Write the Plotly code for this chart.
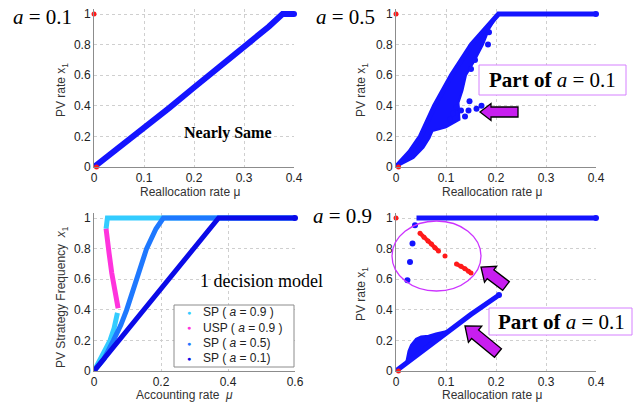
import math
import plotly.graph_objects as go

W, H = 636, 403
def px(x): return x / W
def py(y): return 1 - y / H

# ---------------- data ----------------
# panel 1 : a = 0.1
a01_mu = [0, 0.05, 0.1, 0.15, 0.2, 0.25, 0.3, 0.35, 0.377, 0.4]
a01_x1 = [0, 0.125, 0.25, 0.385, 0.52, 0.65, 0.785, 0.918, 1.0, 1.0]

# red points shown in panels 1, 2, 4
red_mu = [0, 0.005]
red_x1 = [1, 0]

# panel 2 : a = 0.5
a05_up_mu = [0, 0.028, 0.049, 0.077, 0.111, 0.151, 0.205, 0.4]
a05_up_x1 = [0, 0.1, 0.2, 0.4, 0.6, 0.8, 1.0, 1.0]
a05_cloud_mu = [0, 0.028, 0.049, 0.077, 0.111, 0.151, 0.205,
                0.186, 0.174, 0.158, 0.14, 0.133, 0.125, 0.127, 0.1, 0.073, 0.067, 0.055, 0.035, 0]
a05_cloud_x1 = [0, 0.1, 0.2, 0.4, 0.6, 0.8, 1.0,
                0.9, 0.8, 0.7, 0.6, 0.5, 0.42, 0.31, 0.26, 0.235, 0.19, 0.126, 0.06, 0]
a05_out_mu = [0.147, 0.171, 0.161, 0.145, 0.138, 0.13, 0.121, 0.108, 0.114, 0.184, 0.158, 0.186, 0.15]
a05_out_x1 = [0.43, 0.40, 0.38, 0.37, 0.33, 0.37, 0.39, 0.31, 0.35, 0.80, 0.70, 0.88, 0.64]

# panel 3 : 1 decision model
sp09_lo_mu = [0, 0.02, 0.035, 0.048, 0.06, 0.067, 0.07]
sp09_lo_x1 = [0, 0.08, 0.14, 0.2, 0.28, 0.34, 0.38]
sp09_hi_mu = [0.036, 0.04, 0.6]
sp09_hi_x1 = [0.93, 1.0, 1.0]
usp09_mu = [0.036, 0.037, 0.04, 0.045, 0.053, 0.063, 0.072]
usp09_x1 = [0.93, 0.90, 0.84, 0.77, 0.64, 0.51, 0.41]
sp05_mu = [0, 0.03, 0.058, 0.08, 0.0975, 0.127, 0.157, 0.185, 0.207, 0.6]
sp05_x1 = [0, 0.08, 0.2, 0.3, 0.4, 0.6, 0.8, 0.93, 1.0, 1.0]
sp01_mu = [0, 0.372, 0.6]
sp01_x1 = [0, 1.0, 1.0]
legend_labels = ["SP ( <i>a</i> = 0.9 )", "USP ( <i>a</i> = 0.9 )",
                 "SP ( <i>a</i> = 0.5)", "SP ( <i>a</i> = 0.1)"]
legend_colors = ["#33ccff", "#ff33dd", "#1e78ff", "#0a0ae8"]

# panel 4 : a = 0.9
a09_top_mu = [0.041, 0.4]
a09_top_x1 = [1.0, 1.0]
a09_pts_mu = [0.038, 0.033, 0.028, 0.0227]
a09_pts_x1 = [0.952, 0.833, 0.712, 0.593]
a09_red_mu = [0.048, 0.056, 0.064, 0.071, 0.078, 0.085, None, 0.098, None, 0.121, 0.13, 0.138, 0.145, 0.15]
a09_red_x1 = [0.90, 0.875, 0.85, 0.83, 0.805, 0.784, None, 0.752, None, 0.70, 0.685, 0.669, 0.652, 0.64]
a09_lo_mu = [0, 0.02, 0.05, 0.1, 0.15, 0.206]
a09_lo_x1 = [0, 0.05, 0.13, 0.255, 0.37, 0.497]
a09_blob_mu = [0.02, 0.025, 0.03, 0.04, 0.05, 0.065, 0.08, 0.1, 0.09, 0.07, 0.05, 0.035, 0.02]
a09_blob_x1 = [0.05, 0.13, 0.17, 0.21, 0.225, 0.23, 0.245, 0.26, 0.23, 0.19, 0.13, 0.08, 0.05]

x04_ticks = [0, 0.1, 0.2, 0.3, 0.4]
x04_text = ["0", "0.1", "0.2", "0.3", "0.4"]
x06_ticks = [0, 0.2, 0.4, 0.6]
x06_text = ["0", "0.2", "0.4", "0.6"]
y_ticks = [0, 0.2, 0.4, 0.6, 0.8, 1]
y_text = ["0", "0.2", "0.4", "0.6", "0.8", "1"]

# ---------------- figure ----------------
BLUE = "#1414ff"
RED = "#ff1a1a"
SANS = "Liberation Sans"
SERIF = "Liberation Serif"

fig = go.Figure()

def line(n, x, y, color=BLUE, width=5):
    fig.add_trace(go.Scatter(x=x, y=y, mode="lines", xaxis=f"x{n}", yaxis=f"y{n}",
                             line=dict(color=color, width=width),
                             showlegend=False, hoverinfo="skip"))

def pts(n, x, y, color=BLUE, size=6, mode="markers"):
    fig.add_trace(go.Scatter(x=x, y=y, mode=mode, xaxis=f"x{n}", yaxis=f"y{n}",
                             marker=dict(color=color, size=size), line=dict(color=color, width=4),
                             cliponaxis=False, showlegend=False, hoverinfo="skip"))

def poly(n, x, y, color=BLUE):
    fig.add_trace(go.Scatter(x=x, y=y, mode="lines", fill="toself", fillcolor=color,
                             xaxis=f"x{n}", yaxis=f"y{n}", line=dict(color=BLUE, width=2),
                             showlegend=False, hoverinfo="skip"))

# panel 1
line(1, a01_mu, a01_x1, width=6)
pts(1, [a01_mu[-1]], [a01_x1[-1]], size=6)
pts(1, red_mu, red_x1, color=RED, size=5)

# panel 2
poly(2, a05_cloud_mu, a05_cloud_x1)
line(2, a05_up_mu, a05_up_x1, width=5)
pts(2, a05_out_mu, a05_out_x1, size=6)
pts(2, [a05_up_mu[-1]], [a05_up_x1[-1]], size=6)
pts(2, red_mu, red_x1, color=RED, size=5)

# panel 3
line(3, sp09_lo_mu, sp09_lo_x1, color=legend_colors[0], width=5)
line(3, sp09_hi_mu, sp09_hi_x1, color=legend_colors[0], width=5)
line(3, usp09_mu, usp09_x1, color=legend_colors[1], width=5)
line(3, sp05_mu, sp05_x1, color=legend_colors[2], width=5)
line(3, sp01_mu, sp01_x1, color=legend_colors[3], width=5)
pts(3, [sp01_mu[-1]], [sp01_x1[-1]], color=legend_colors[3], size=6)

# panel 4
line(4, a09_top_mu, a09_top_x1, width=5)
pts(4, [a09_top_mu[-1]], [a09_top_x1[-1]], size=6)
pts(4, a09_pts_mu, a09_pts_x1, size=6)
pts(4, a09_red_mu, a09_red_x1, color=RED, size=5, mode="lines+markers")
poly(4, a09_blob_mu, a09_blob_x1)
line(4, a09_lo_mu, a09_lo_x1, width=5)
pts(4, [a09_lo_mu[-1]], [a09_lo_x1[-1]], size=6)
pts(4, red_mu, red_x1, color=RED, size=5)

# ---------------- axes ----------------
YTOP = 1.03
panels = {
    1: dict(xpx=(94, 294), ypx=(167, 14), xr=[0, 0.4], xt=(x04_ticks, x04_text)),
    2: dict(xpx=(396, 596), ypx=(167, 14), xr=[0, 0.4], xt=(x04_ticks, x04_text)),
    3: dict(xpx=(94, 295), ypx=(371, 218), xr=[0, 0.6], xt=(x06_ticks, x06_text)),
    4: dict(xpx=(396, 596), ypx=(371, 218), xr=[0, 0.4], xt=(x04_ticks, x04_text)),
}
common = dict(showline=True, linecolor="#8c8c8c", linewidth=1, mirror=False,
              showgrid=True, gridcolor="#cfcfcf", griddash="dot", gridwidth=1,
              zeroline=False, ticks="", automargin=False, fixedrange=True,
              tickfont=dict(family=SANS, size=12, color="#222"))
lay = {}
for n, p in panels.items():
    sfx = "" if n == 1 else str(n)
    y0, y1 = p["ypx"]
    ytop = y1 - (YTOP - 1) * (y0 - y1)
    lay["xaxis" + sfx] = dict(common, domain=[px(p["xpx"][0]), px(p["xpx"][1])],
                              range=p["xr"], anchor="y" + sfx,
                              tickvals=p["xt"][0], ticktext=p["xt"][1])
    lay["yaxis" + sfx] = dict(common, domain=[py(y0), py(ytop)], range=[0, YTOP],
                              anchor="x" + sfx, tickvals=y_ticks, ticktext=y_text)

fig.update_layout(width=W, height=H, autosize=False, margin=dict(l=0, r=0, t=0, b=0),
                  paper_bgcolor="white", plot_bgcolor="white", showlegend=False, **lay)

# ---------------- annotations ----------------
ann = []
def txt(x, y, s, size=12, family=SANS, color="#333", angle=0, xanchor="center"):
    ann.append(dict(x=px(x), y=py(y), xref="paper", yref="paper", text=s, showarrow=False,
                    font=dict(family=family, size=size, color=color), textangle=angle,
                    xanchor=xanchor, yanchor="middle"))

# axis titles
txt(62, 90, "PV rate x<sub>1</sub>", angle=-90)
txt(190, 192, "Reallocation rate μ")
txt(362, 90, "PV rate x<sub>1</sub>", angle=-90)
txt(492, 192, "Reallocation rate μ")
txt(62, 297, "PV Strategy Frequency  <i>x</i><sub>1</sub>", angle=-90)
txt(184, 395, "Accounting rate  <i>μ</i>")
txt(362, 294, "PV rate x<sub>1</sub>", angle=-90)
txt(492, 395, "Reallocation rate μ")

# panel labels
txt(42, 17, "<i>a</i> = 0.1", size=21, family=SERIF, color="black")
txt(345, 17, "<i>a</i> = 0.5", size=21, family=SERIF, color="black")
txt(342, 216, "<i>a</i> = 0.9", size=21, family=SERIF, color="black")
txt(228, 133, "<b>Nearly Same</b>", size=16, family=SERIF, color="black")
txt(198, 281, "1 decision model", size=18, family=SERIF, color="black", xanchor="left")
txt(552, 80, "<b>Part of </b><i>a</i> = 0.1", size=21, family=SERIF, color="black")
txt(561, 322, "<b>Part of </b><i>a</i> = 0.1", size=21, family=SERIF, color="black")

# manual legend
leg_y = [312, 327.5, 343, 358]
for lab, col, yy in zip(legend_labels, legend_colors, leg_y):
    txt(189, yy, "●", size=7, color=col)
    txt(201, yy, lab, size=12, color="#222", xanchor="left")

# ---------------- shapes ----------------
shapes = []
def rect(x0, y0, x1, y1, color, width=1):
    shapes.append(dict(type="rect", xref="paper", yref="paper", x0=px(x0), x1=px(x1),
                       y0=py(y1), y1=py(y0), line=dict(color=color, width=width),
                       fillcolor="white"))

def arrow(tip, tail, hl, hw, sw):
    dx, dy = tail[0] - tip[0], tail[1] - tip[1]
    L = math.hypot(dx, dy)
    ux, uy = dx / L, dy / L
    nx, ny = -uy, ux
    bx, by = tip[0] + ux * hl, tip[1] + uy * hl
    P = [tip,
         (bx + nx * hw / 2, by + ny * hw / 2),
         (bx + nx * sw / 2, by + ny * sw / 2),
         (tail[0] + nx * sw / 2, tail[1] + ny * sw / 2),
         (tail[0] - nx * sw / 2, tail[1] - ny * sw / 2),
         (bx - nx * sw / 2, by - ny * sw / 2),
         (bx - nx * hw / 2, by - ny * hw / 2)]
    path = "M " + " L ".join(f"{px(a):.5f},{py(b):.5f}" for a, b in P) + " Z"
    shapes.append(dict(type="path", xref="paper", yref="paper", path=path,
                       fillcolor="#c81ef0", line=dict(color="black", width=1.3)))

rect(479, 65, 626, 95, "#d580ff")
rect(489, 308, 632, 335, "#d580ff")
rect(174, 305, 294, 367, "#8c8c8c")
shapes.append(dict(type="circle", xref="paper", yref="paper", x0=px(392), x1=px(481),
                   y0=py(291), y1=py(221), line=dict(color="#cc33ff", width=1.3)))
arrow((480, 112), (518, 112), 11, 17, 10)
arrow((481, 267), (506, 286), 12, 20, 11)
arrow((465, 326), (498, 353), 13, 21, 11)

fig.update_layout(annotations=ann, shapes=shapes)
fig.write_html("out.html", config={"displayModeBar": False},
               post_script="document.body.style.margin='0';document.body.style.overflow='hidden';")
